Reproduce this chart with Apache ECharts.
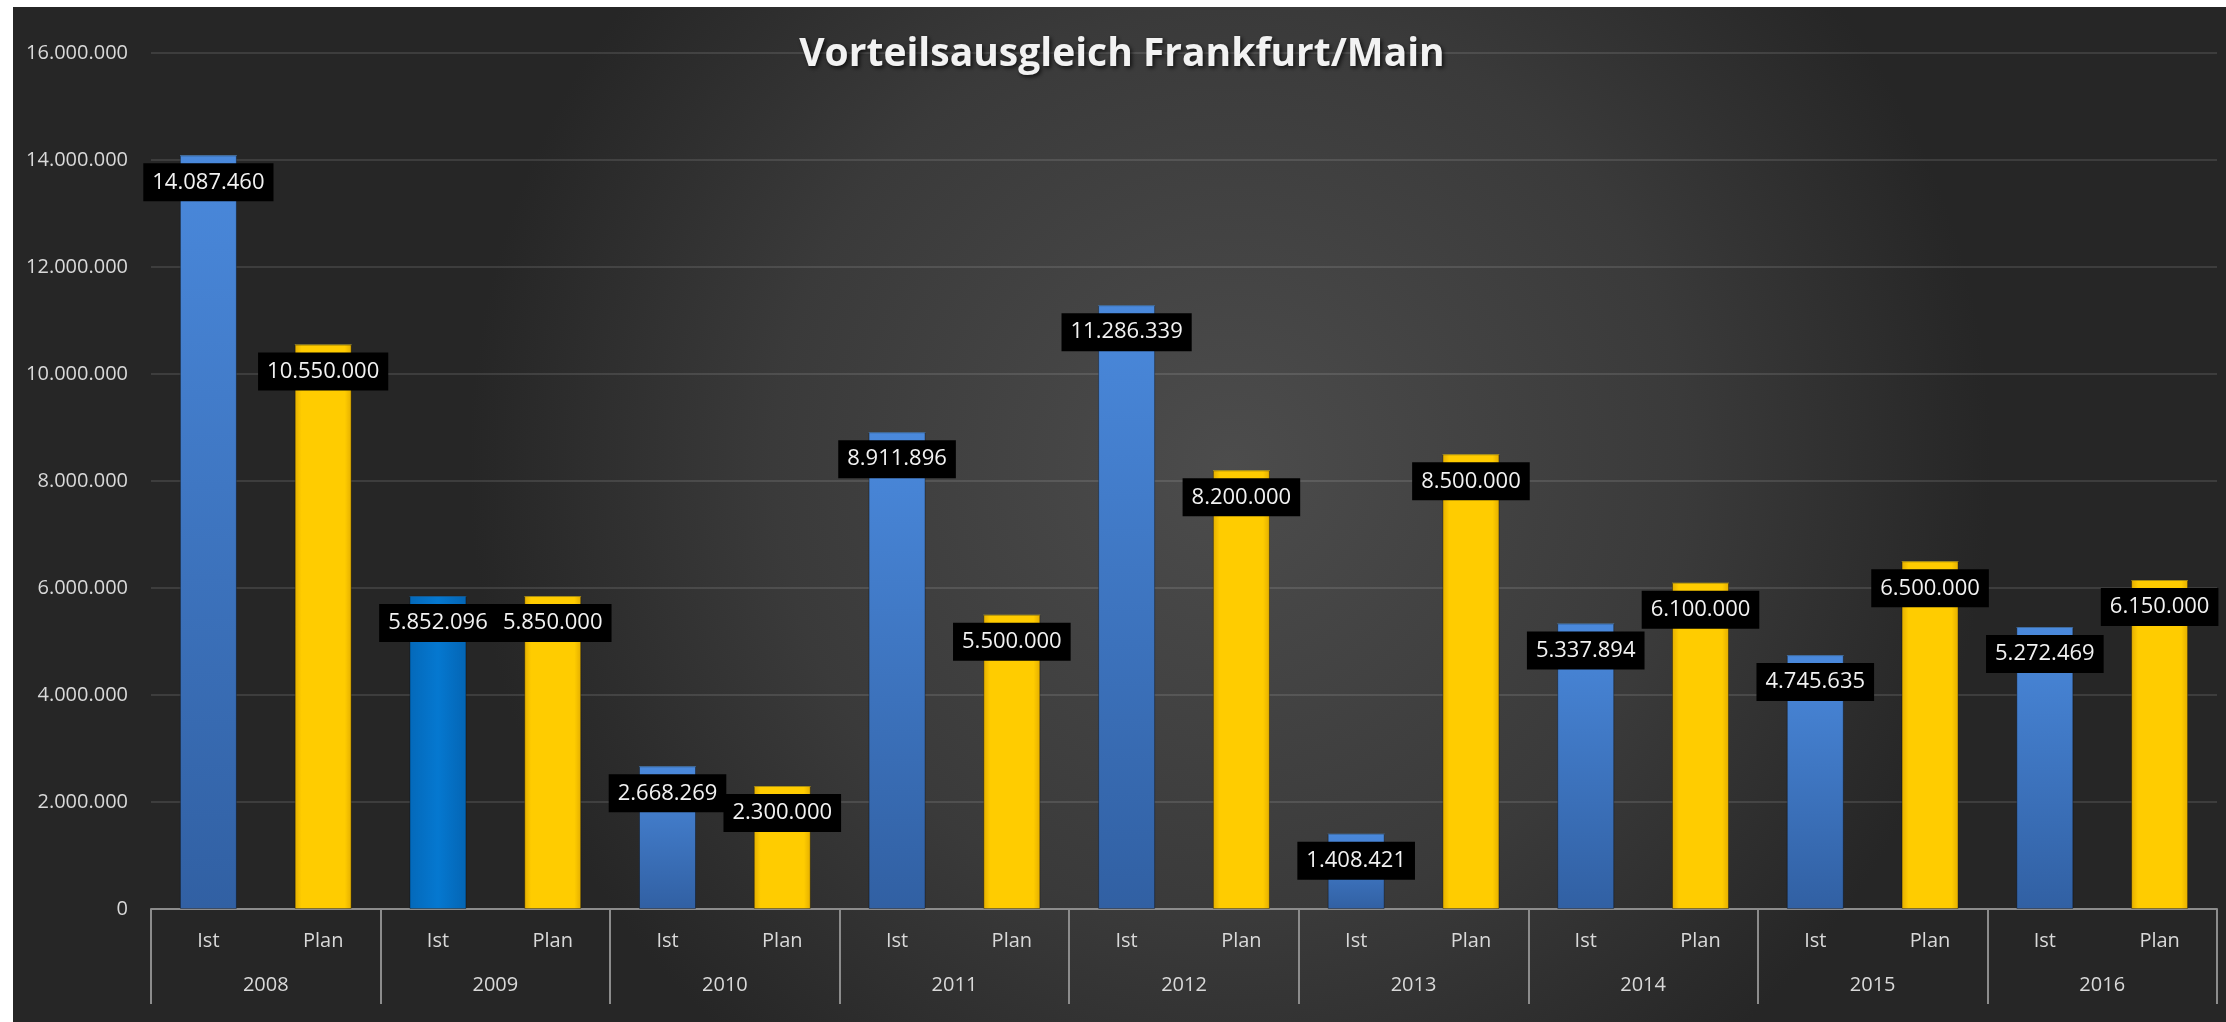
<!DOCTYPE html>
<html>
<head>
<meta charset="utf-8">
<title>Vorteilsausgleich Frankfurt/Main</title>
<script src="https://cdn.jsdelivr.net/npm/echarts@6.0.0/dist/echarts.min.js"></script>
<style>
    html, body { margin:0; padding:0; background:#fff; }
    .barTab { position:absolute; left:13px; top:7px; width:2213px; height:1015px; }
</style>
</head>
<body>
<div class="barTab"></div>
<script>
let years = ['2008','2009','2010','2011','2012','2013','2014','2015','2016'];
let kinds = ['Ist','Plan'];
let istValues = [14087460, 5852096, 2668269, 8911896, 11286339, 1408421, 5337894, 4745635, 5272469];
let planValues = [10550000, 5850000, 2300000, 5500000, 8200000, 8500000, 6100000, 6500000, 6150000];
let yTicks = [0, 2000000, 4000000, 6000000, 8000000, 10000000, 12000000, 14000000, 16000000];

// Zahlen mit Punkt als Tausendertrenner
function fmt(v){
    return String(v).replace(/\B(?=(\d{3})+(?!\d))/g, '.');
}

let blueGrad = new echarts.graphic.LinearGradient(0, 0, 0, 1, [
    {offset:0, color:'#4A89DC'},
    {offset:1, color:'#3160A3'}
]);
let blue09 = new echarts.graphic.LinearGradient(0, 0, 1, 0, [
    {offset:0, color:'#0469BA'},
    {offset:0.5, color:'#0578D0'},
    {offset:1, color:'#0465B4'}
]);
let yellowGrad = new echarts.graphic.LinearGradient(0, 0, 1, 0, [
    {offset:0, color:'#E3AE00'},
    {offset:0.12, color:'#FFCC00'},
    {offset:0.88, color:'#FFCC00'},
    {offset:1, color:'#E3AE00'}
]);

let cats = [];
let values = [];
years.forEach((y, i) => {
    cats.push(kinds[0]);
    cats.push(kinds[1]);
    values.push({
        value: istValues[i],
        itemStyle: {color: y === '2009' ? blue09 : blueGrad}
    });
    values.push({
        value: planValues[i],
        itemStyle: {color: yellowGrad}
    });
});

let caps = values.map((d, i) => ({
    value: d.value,
    itemStyle: {color: i % 2 === 0 ? (years[i >> 1] === '2009' ? '#3A98E6' : '#6FB0F2') : '#FFE23A'}
}));

let myChart = echarts.init(document.querySelector('.barTab'));

myChart.setOption({
    backgroundColor: {
        type:'radial', x:0.55, y:0.45, r:0.75,
        colorStops:[
            {offset:0, color:'#4C4C4C'},
            {offset:0.6, color:'#3A3A3A'},
            {offset:1, color:'#262626'}
        ]
    },
    title:{
        text:'Vorteilsausgleich Frankfurt/Main',
        left:1104, top:23,
        textAlign:'center',
        textStyle:{
            color:'#F2F2F2',
            fontFamily:'Open Sans',
            fontWeight:'bold',
            fontSize:39,
            textShadowColor:'rgba(0,0,0,0.7)',
            textShadowBlur:4,
            textShadowOffsetX:2,
            textShadowOffsetY:2
        }
    },
    grid:{ left:138, right:9, top:46, bottom:113, containLabel:false },
    xAxis:[
        {
            type:'category',
            data:cats,
            axisLine:{show:false},
            axisTick:{show:false},
            axisLabel:{
                color:'#D9D9D9', fontSize:20, fontFamily:'Open Sans',
                margin:22, interval:0
            }
        },
        {
            type:'category',
            data:years,
            position:'bottom',
            axisLine:{show:true, lineStyle:{color:'#8C8C8C', width:2}},
            axisTick:{show:true, interval:0, length:95, lineStyle:{color:'#8C8C8C', width:2}},
            axisLabel:{
                color:'#D9D9D9', fontSize:20, fontFamily:'Open Sans',
                margin:66, interval:0
            },
            splitLine:{show:false}
        }
    ],
    yAxis:{
        type:'value',
        min:yTicks[0],
        max:yTicks[yTicks.length - 1],
        interval:yTicks[1] - yTicks[0],
        axisLine:{show:false},
        axisTick:{show:false},
        axisLabel:{
            color:'#D9D9D9', fontSize:20, fontFamily:'Open Sans',
            margin:23,
            formatter:(v) => fmt(v)
        },
        splitLine:{lineStyle:{color:'rgba(255,255,255,0.11)', width:2}}
    },
    series:[
        {
            name:'Vorteilsausgleich',
            type:'bar',
            barWidth:57,
            data:values,
            itemStyle:{borderColor:'rgba(0,0,0,0.35)', borderWidth:1},
            label:{
                show:true,
                position:'insideTop',
                distance:8,
                color:'#F2F2F2',
                fontSize:22,
                lineHeight:26,
                fontFamily:'Open Sans',
                backgroundColor:'#000000',
                padding:[6, 9, 6, 9],
                formatter:(p) => fmt(p.value)
            }
        },
        {
            name:'cap',
            type:'pictorialBar',
            symbol:'path://M0,0 L20,0 L18,2 L2,2 Z',
            symbolSize:[57, 8],
            symbolPosition:'end',
            silent:true,
            data:caps
        }
    ]
});
</script>
</body>
</html>
